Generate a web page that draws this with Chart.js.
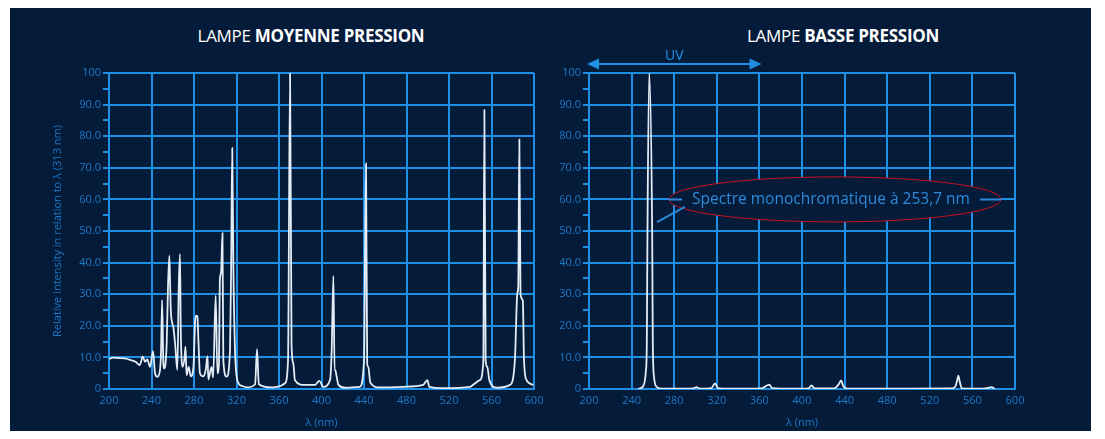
<!DOCTYPE html>
<html>
<head>
<meta charset="utf-8">
<script src="https://cdn.jsdelivr.net/npm/chart.js@4.4.1/dist/chart.umd.min.js"></script>
<style>
  body { margin: 0; background: #ffffff; width: 1105px; height: 439px; overflow: hidden; position: relative; font-family: "Open Sans", sans-serif; }
  #panel { position: absolute; left: 10px; top: 8px; width: 1081px; height: 423px; background: #041b3a; }
  .title { position: absolute; top: 25px; color: #ffffff; font-size: 17px; line-height: 22px; text-align: center; letter-spacing: -0.3px; }
  .title b { font-weight: 700; }
  canvas { position: absolute; top: 0; }
</style>
</head>
<body>
<div id="panel"></div>
<div class="title" style="left: 161px; width: 300px;">LAMPE <b>MOYENNE PRESSION</b></div>
<div class="title" style="left: 693px; width: 300px;">LAMPE <b>BASSE PRESSION</b></div>
<canvas id="moyenne" width="560" height="439" style="left: 0;"></canvas>
<canvas id="basse" width="545" height="439" style="left: 560px;"></canvas>
<script>
// wavelength ticks (nm) and intensity ticks
const X_TICKS = [200, 240, 280, 320, 360, 400, 440, 480, 520, 560, 600];
const Y_TICKS = [0, 5, 10, 15, 20, 25, 30, 35, 40, 45, 50, 55, 60, 65, 70, 75, 80, 85, 90, 95, 100];

// lampe moyenne pression
const MP_NM = [200, 204, 210, 216, 220, 225, 229, 231.7, 234, 236, 238.6, 241.5, 243.3, 245.5, 248, 249, 250, 251, 252,
  254.3, 255.5, 256.8, 257.6, 258.3, 260.5, 262.3, 264.3, 265.7, 266.8, 267.5, 269.3, 271.2, 272, 273, 275, 277, 279.5,
  281, 281.8, 283.2, 284.2, 285.6, 288.7, 291, 292.7, 293.5, 296.5, 298, 300.4, 302, 303.5, 304.3, 305.5, 306.8, 307.6,
  310.7, 313.9, 315, 316, 317, 318.6, 320.8, 325, 330, 337.5, 339.3, 341, 353, 360, 365.6, 368.5, 370.4, 371.8, 373.5,
  375, 384, 394, 398, 401.7, 408, 409.6, 411.2, 412.3, 413, 414, 416, 422, 436, 440, 441.9, 443, 444, 446, 455, 477,
  495.6, 499.6, 501.5, 514.7, 539.8, 544.5, 549, 552.3, 553.3, 554.5, 556, 558, 565, 577.4, 582, 584.3, 585.2, 586.2,
  587.3, 589.5, 590.6, 593, 599.4];
const MP_INT = [9.5, 9.9, 9.8, 9.6, 9.2, 8.6, 7.6, 10.2, 8.6, 9.4, 7, 12, 5, 3.9, 6, 12, 28.2, 10, 6.5,
  14.5, 32, 42.2, 32, 24, 19.7, 14, 6, 33, 42.7, 19.7, 7, 10.2, 13.4, 4.4, 7, 4, 7,
  21, 23.2, 23, 15, 5, 4, 6, 10.4, 3, 7, 3.6, 29.6, 5, 8, 34, 37, 49.3, 9,
  3.9, 12.3, 40, 76.2, 40, 12.3, 2.8, 1, 0.5, 1.5, 12.6, 1.5, 0.5, 0.8, 1.8, 9, 100, 14, 8,
  2.8, 1.3, 1.3, 2.6, 0.7, 2.8, 12.3, 35.8, 6, 6, 4.4, 1.3, 0.4, 0.7, 9, 71.4, 8, 7, 2, 0.5, 0.7,
  1.3, 2.8, 0.7, 0.3, 0.7, 1.8, 2.8, 8.7, 88.3, 9, 7, 2.8, 0.4, 1.3, 9, 30.3, 32.4, 79,
  30, 28, 9, 2.8, 1.3];

// lampe basse pression
const BP_NM = [246, 250.4, 253.5, 254.3, 254.9, 256.5, 259.3, 259.9, 261, 263.5, 268, 290, 298, 301, 304, 315, 318.3,
  321, 330, 362, 367, 369.3, 372, 390, 406, 409, 412, 430, 434.5, 436.6, 439, 443, 500, 540, 544, 546, 546.8, 548,
  550, 570, 576, 578, 581];
const BP_INT = [0, 0.7, 6, 15, 50, 100, 50, 15, 4, 0.7, 0.1, 0.1, 0.2, 0.6, 0.1, 0.3, 1.8,
  0.3, 0.1, 0.2, 1.1, 1.4, 0.3, 0.1, 0.2, 1.1, 0.2, 0.2, 1.5, 2.7, 0.8, 0.1, 0.1, 0.2, 0.8, 3.2, 4.2, 2.5,
  0.2, 0.1, 0.4, 0.6, 0];

const UV_RANGE = [200, 362];

const GRID = '#1f8fe6';
const LABEL = '#1e78c8';
const NAVY = '#041b3a';
const FONT = '"Open Sans", sans-serif';

function yLabel(v) {
  if (v % 10 !== 0) return '';
  if (v === 0) return '0';
  if (v === 100) return '100';
  return v.toFixed(1);
}

function makeOptions(yWidth, rightPad, yTitle) {
  return {
    responsive: false,
    animation: false,
    layout: { padding: { top: 73, right: rightPad, bottom: 0, left: 0 } },
    plugins: { legend: { display: false }, tooltip: { enabled: false } },
    scales: {
      x: {
        type: 'linear',
        min: 200,
        max: 600,
        afterBuildTicks: (s) => { s.ticks = X_TICKS.map((v) => ({ value: v })); },
        afterFit: (s) => { s.height = 50; },
        grid: { color: GRID, lineWidth: 2, drawTicks: false },
        border: { color: GRID, width: 2 },
        ticks: { color: LABEL, font: { family: FONT, size: 11 }, padding: 5, maxRotation: 0 },
        title: { display: true, text: 'λ (nm)', color: LABEL, font: { family: FONT, size: 11 }, padding: { top: 0, bottom: 10 } }
      },
      y: {
        min: 0,
        max: 100,
        afterBuildTicks: (s) => { s.ticks = Y_TICKS.map((v) => ({ value: v })); },
        afterFit: (s) => { s.width = yWidth; },
        grid: {
          color: (c) => (c.tick && c.tick.value % 10 === 0 ? GRID : 'rgba(0,0,0,0)'),
          tickColor: GRID,
          tickLength: 6,
          lineWidth: 2
        },
        border: { color: GRID, width: 2 },
        ticks: { color: LABEL, font: { family: FONT, size: 11 }, padding: 2, autoSkip: false, callback: yLabel },
        title: {
          display: !!yTitle,
          text: yTitle || '',
          color: LABEL,
          font: { family: FONT, size: 11 },
          padding: { top: 51, bottom: 0 }
        }
      }
    }
  };
}

function spectrum(nm, vals) {
  return {
    data: nm.map((x, i) => ({ x: x, y: vals[i] })),
    borderColor: '#e4ecf5',
    borderWidth: 1.8,
    pointRadius: 0,
    cubicInterpolationMode: 'monotone',
    fill: false
  };
}

// arrow "UV" + red ellipse note on the low pressure chart
const basseNotes = {
  id: 'basseNotes',
  afterDatasetsDraw(chart) {
    const { ctx, scales: { x, y } } = chart;
    ctx.save();

    // UV arrow
    const ax0 = x.getPixelForValue(UV_RANGE[0]) - 2;
    const ax1 = x.getPixelForValue(UV_RANGE[1]);
    const ay = y.top - 9;
    ctx.strokeStyle = GRID;
    ctx.fillStyle = GRID;
    ctx.lineWidth = 2;
    ctx.beginPath();
    ctx.moveTo(ax0 + 8, ay);
    ctx.lineTo(ax1 - 8, ay);
    ctx.stroke();
    ctx.beginPath();
    ctx.moveTo(ax0, ay);
    ctx.lineTo(ax0 + 12, ay - 5.5);
    ctx.lineTo(ax0 + 12, ay + 5.5);
    ctx.closePath();
    ctx.fill();
    ctx.beginPath();
    ctx.moveTo(ax1, ay);
    ctx.lineTo(ax1 - 12, ay - 5.5);
    ctx.lineTo(ax1 - 12, ay + 5.5);
    ctx.closePath();
    ctx.fill();
    ctx.font = '14px ' + FONT;
    ctx.textAlign = 'center';
    ctx.textBaseline = 'middle';
    ctx.fillText('UV', (ax0 + ax1) / 2, ay - 8);

    // note
    const cx = x.getPixelForValue(431);
    const cy = y.getPixelForValue(60);
    const rx = 166;
    const ry = 22.5;
    ctx.beginPath();
    ctx.ellipse(cx, cy, rx, ry, 0, 0, Math.PI * 2);
    ctx.fillStyle = NAVY;
    ctx.fill();
    ctx.strokeStyle = '#c8101e';
    ctx.lineWidth = 1;
    ctx.stroke();

    const text = 'Spectre monochromatique à 253,7 nm';
    ctx.font = '15.5px ' + FONT;
    const tw = ctx.measureText(text).width;
    const tx = cx - 4;
    ctx.fillStyle = '#2d8ad8';
    ctx.fillText(text, tx, cy);

    ctx.strokeStyle = '#2d8ad8';
    ctx.lineWidth = 2;
    ctx.beginPath();
    ctx.moveTo(cx - rx, cy);
    ctx.lineTo(tx - tw / 2 - 10, cy);
    ctx.moveTo(tx + tw / 2 + 10, cy);
    ctx.lineTo(cx + rx, cy);
    ctx.moveTo(x.getPixelForValue(263.8), y.getPixelForValue(52.8));
    ctx.lineTo(x.getPixelForValue(290), y.getPixelForValue(57.6));
    ctx.stroke();

    ctx.restore();
  }
};

new Chart(document.getElementById('moyenne'), {
  type: 'line',
  data: { datasets: [spectrum(MP_NM, MP_INT)] },
  options: makeOptions(109, 26, 'Relative intensity in relation to λ (313 nm)')
});

new Chart(document.getElementById('basse'), {
  type: 'line',
  data: { datasets: [spectrum(BP_NM, BP_INT)] },
  options: makeOptions(29, 90, null),
  plugins: [basseNotes]
});
</script>
</body>
</html>
